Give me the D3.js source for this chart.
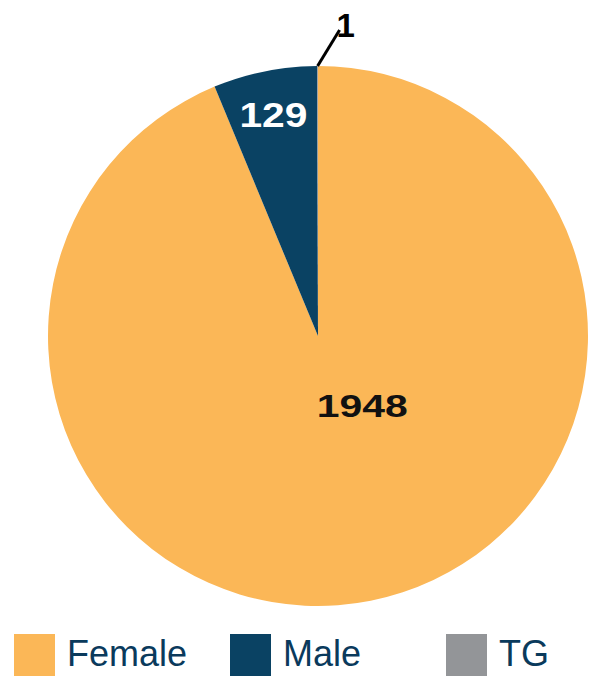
<!DOCTYPE html>
<html>
<head>
<meta charset="utf-8">
<script src="https://cdn.jsdelivr.net/npm/d3@7"></script>
<style>
  html, body { margin: 0; padding: 0; background: #ffffff; }
  svg { display: block; }
</style>
</head>
<body>
<svg id="chart" width="616" height="687"></svg>
<script>
const categories = ["Female", "Male", "TG"];
const values = [1948, 129, 1];
const colors = ["#FBB757", "#0A4263", "#939598"];

const svg = d3.select("#chart");
const cx = 318, cy = 336, R = 270;
const g = svg.append("g").attr("transform", `translate(${cx},${cy})`);

const data = categories.map((c, i) => ({ name: c, value: values[i], color: colors[i] }));
const pie = d3.pie().value(d => d.value).sort(null);
const arcs = pie(data);
const arc = d3.arc().innerRadius(0).outerRadius(R);

g.selectAll("path.slice").data(arcs).enter().append("path")
  .attr("class", "slice")
  .attr("d", arc)
  .attr("fill", d => d.data.color);

// Female label
const fem = arcs[0];
const femArc = d3.arc().innerRadius(R * 0.31).outerRadius(R * 0.31);
const fc = femArc.centroid(fem);
g.append("text")
  .attr("x", fc[0] + 28).attr("y", fc[1] - 12)
  .attr("text-anchor", "middle").attr("dominant-baseline", "central")
  .attr("font-family", "Liberation Sans, Arial, sans-serif")
  .attr("font-weight", "bold").attr("font-size", 31)
  .attr("textLength", 91).attr("lengthAdjust", "spacingAndGlyphs")
  .attr("fill", "#111")
  .text(values[0]);

// Male label
const male = arcs[1];
const maleArc = d3.arc().innerRadius(R * 0.84).outerRadius(R * 0.84);
const mc = maleArc.centroid(male);
g.append("text")
  .attr("x", mc[0]).attr("y", mc[1] + 1)
  .attr("text-anchor", "middle").attr("dominant-baseline", "central")
  .attr("font-family", "Liberation Sans, Arial, sans-serif")
  .attr("font-weight", "bold").attr("font-size", 35)
  .attr("textLength", 68).attr("lengthAdjust", "spacingAndGlyphs")
  .attr("fill", "#ffffff")
  .text(values[1]);

// TG label with leader line
const tg = arcs[2];
const tgA = (tg.startAngle + tg.endAngle) / 2;
const p0 = [R * Math.sin(tgA), -R * Math.cos(tgA)];
const p1 = [p0[0] + 22, p0[1] - 36];
g.append("line")
  .attr("x1", p0[0]).attr("y1", p0[1])
  .attr("x2", p1[0]).attr("y2", p1[1])
  .attr("stroke", "#000").attr("stroke-width", 3);
g.append("text")
  .attr("x", p1[0] + 6).attr("y", p1[1] + 7)
  .attr("text-anchor", "middle")
  .attr("font-family", "Liberation Sans, Arial, sans-serif")
  .attr("font-weight", "bold").attr("font-size", 33)
  .attr("fill", "#000")
  .text(values[2]);

// Legend
const legendX = d3.scalePoint().domain(categories).range([14, 446]);
const lg = svg.append("g").attr("class", "legend");
const items = lg.selectAll("g").data(data).enter().append("g")
  .attr("transform", d => `translate(${legendX(d.name)},634)`);
items.append("rect")
  .attr("width", 41).attr("height", 42)
  .attr("fill", d => d.color);
items.append("text")
  .attr("x", 53).attr("y", 32)
  .attr("font-family", "Liberation Sans, Arial, sans-serif")
  .attr("font-size", 36)
  .attr("fill", "#0A3A5C")
  .text(d => d.name);
</script>
</body>
</html>
